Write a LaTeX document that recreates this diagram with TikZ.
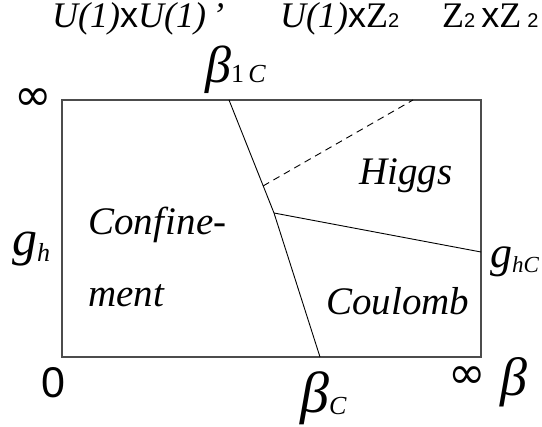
\documentclass[tikz,border=0pt]{standalone}
\usepackage{fontspec}
\setmainfont{Liberation Serif}
\setsansfont{Liberation Sans}
\newfontfamily\symfont{DejaVu Sans}
\usetikzlibrary{positioning}
\newcommand{\tcross}{{\sffamily\upshape x}}
\newcommand{\subtxt}[1]{{\fontsize{26}{26}\selectfont #1}}
\newcommand{\subtwo}{{\sffamily\upshape\fontsize{20}{20}\selectfont 2}}

\begin{document}
\begin{tikzpicture}[
    x = 1pt, y = -1pt,
    framebox/.style = {
      draw = black!70, line width = 1.4pt
    },
    boundary/.style = {
      draw, line width = 0.9pt
    },
    crossover/.style = {
      draw, line width = 0.9pt, dash pattern = on 7pt off 5pt
    },
    phaselabel/.style = {
      font = \fontsize{39}{40}\selectfont\itshape, inner sep = 0pt, anchor = base west
    },
    grouplabel/.style = {
      font = \fontsize{36}{38}\selectfont, inner sep = 0pt, anchor = base west
    },
    axislabel/.style = {
      inner sep = 0pt, anchor = base west
    },
    ]
    \useasboundingbox (0,0) rectangle (542,427);

    % draw frame
    \coordinate  (sw)  at  (62,357);
    \coordinate  (ne)  at  (481,100);
    \draw  [framebox]  (sw)  rectangle  (ne);

    % draw phase boundaries
    \coordinate  (b1c)  at  (229,100);
    \coordinate  (kink)  at  (274,213);
    \coordinate  (bc)  at  (320,357);
    \coordinate  (ghc)  at  (481,252);
    \coordinate  (dstart)  at  (263,186);
    \coordinate  (dend)  at  (413,100);
    \draw  [boundary]  (b1c)  --  (kink)  --  (bc);
    \draw  [boundary]  (kink)  --  (ghc);
    \draw  [crossover]  (dstart)  --  (dend);

    % draw symmetry groups
    \node  [grouplabel]  (g1)  at  (52,28)  {\itshape U(1)\tcross U(1)\,’};
    \node  [grouplabel]  (g2)  at  (280,28)  {\itshape U(1)\tcross\upshape Z\subtwo};
    \node  [grouplabel]  (g3)  at  (442,28)  {Z\subtwo\,\tcross Z\,\subtwo};

    % draw phases
    \node  [phaselabel]  (confine)  at  (88,235)  {Conf\kern1pt{}i\kern1pt ne-};
    \node  [phaselabel]  (ment)  at  (88,307)  {ment};
    \node  [phaselabel]  (higgs)  at  (359,185)  {Higgs};
    \node  [phaselabel]  (coulomb)  at  (326,315)  {Coulomb};

    % draw axis labels
    \node  [axislabel]  (beta1c)  at  (205,83)
      {\fontsize{52}{52}\selectfont\itshape β\subtxt{\upshape 1\,\itshape C}};
    \node  [inner sep = 0pt]  (inftop)  at  (33,100)  {\symfont\fontsize{45}{45}\selectfont ∞};
    \node  [axislabel]  (gh)  at  (12,256)
      {\fontsize{50}{50}\selectfont\itshape g\raisebox{-6pt}{\subtxt{h}}};
    \node  [axislabel]  (ghclabel)  at  (490,268)
      {\fontsize{44}{44}\selectfont\itshape g\raisebox{-5pt}{\fontsize{23}{23}\selectfont hC}};
    \node  [inner sep = 0pt]  (zero)  at  (53,383)  {\sffamily\fontsize{43}{43}\selectfont 0};
    \node  [axislabel]  (betac)  at  (300,413)
      {\fontsize{58}{58}\selectfont\itshape β\raisebox{-2pt}{\subtxt{C}}};
    \node  [inner sep = 0pt]  (infright)  at  (467,378)  {\symfont\fontsize{45}{45}\selectfont ∞};
    \node  [axislabel, right = 14pt of infright.east, anchor = west, yshift = -4pt]  (beta)
      {\fontsize{54}{54}\selectfont\itshape β};
\end{tikzpicture}
\end{document}
